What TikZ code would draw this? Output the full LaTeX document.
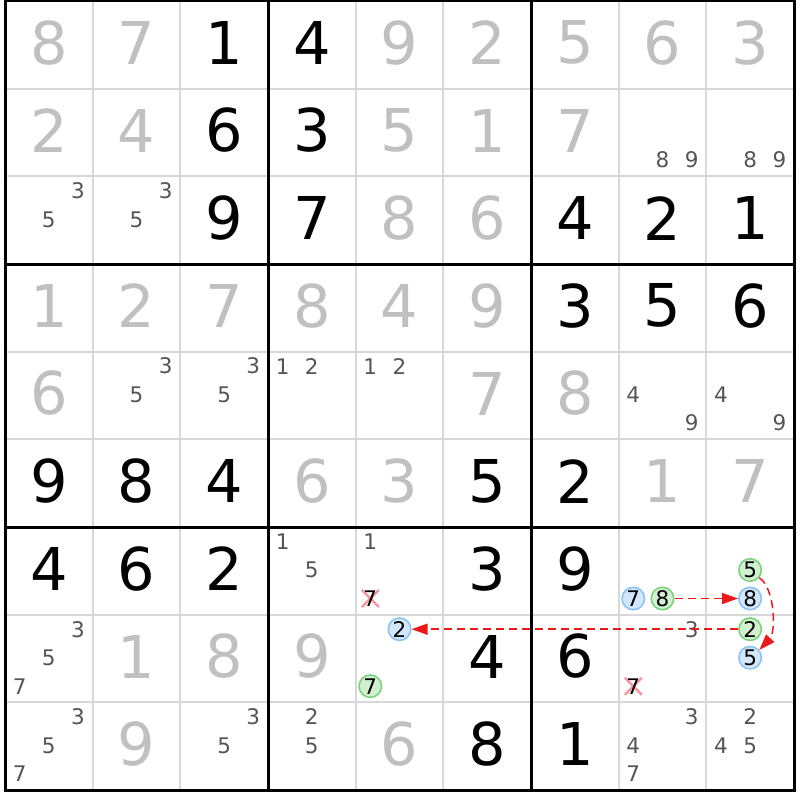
\documentclass[tikz,border=0pt]{standalone}
\usepackage{fontspec}
\setmainfont{DejaVu Sans}
\usetikzlibrary{arrows.meta}
\definecolor{solved}{RGB}{192,192,192}
\definecolor{cand}{RGB}{85,85,85}
\definecolor{thinline}{RGB}{216,216,216}
\definecolor{bfill}{RGB}{210,230,252}
\definecolor{bline}{RGB}{140,195,245}
\definecolor{gfill}{RGB}{208,240,208}
\definecolor{gline}{RGB}{125,210,125}
\definecolor{chain}{RGB}{235,25,25}
\definecolor{xcol}{RGB}{245,150,160}
\begin{document}
\begin{tikzpicture}[x=1pt,y=-1pt,
  given/.style={font=\fontsize{59}{59}\selectfont, text=black, inner sep=0pt},
  solvd/.style={given, text=solved},
  cnd/.style={font=\fontsize{21.5}{21.5}\selectfont, text=cand, inner sep=0pt},
  bc/.style={circle, draw=bline, fill=bfill, line width=1.6pt, minimum size=22.5pt, inner sep=0pt, font=\fontsize{21.5}{21.5}\selectfont, text=black},
  gc/.style={bc, draw=gline, fill=gfill},
  xd/.style={inner sep=0pt, font=\fontsize{21.5}{21.5}\selectfont, text=black},
  xmark/.style={draw=xcol, line width=2.5pt},
  link/.style={draw=chain, line width=1.5pt, dash pattern=on 8pt off 5pt, -{Triangle[length=16pt,width=11pt]}},
  thinl/.style={draw=thinline, line width=2pt},
  thickl/.style={draw=black, line width=3pt}
]
\useasboundingbox (0,0) rectangle (800,800);
\fill[white] (0,0) rectangle (800,800);
% grid
\foreach \i in {1,2,4,5,7,8}{
  \draw[thinl] ({5+87.667*\i},1) -- ({5+87.667*\i},790);
  \draw[thinl] (5,{1+87.667*\i}) -- (794,{1+87.667*\i});
}
\foreach \i in {0,3,6,9}{
  \draw[thickl] ({5+87.667*\i},-0.5) -- ({5+87.667*\i},791.5);
  \draw[thickl] (3.5,{1+87.667*\i}) -- (795.5,{1+87.667*\i});
}
% given (black) digits
\foreach \r/\c/\d in {1/3/1,1/4/4,2/3/6,2/4/3,3/3/9,3/4/7,3/7/4,3/8/2,3/9/1,
  4/7/3,4/8/5,4/9/6,6/1/9,6/2/8,6/3/4,6/6/5,6/7/2,7/1/4,7/2/6,7/3/2,7/6/3,7/7/9,
  8/6/4,8/7/6,9/6/8,9/7/1}{
  \node[given] (n\r\c) at ({5+87.667*(\c-0.5)},{87.667*(\r-0.5)-1}) {\d};
}
% solved (gray) digits
\foreach \r/\c/\d in {1/1/8,1/2/7,1/5/9,1/6/2,1/7/5,1/8/6,1/9/3,
  2/1/2,2/2/4,2/5/5,2/6/1,2/7/7,3/5/8,3/6/6,
  4/1/1,4/2/2,4/3/7,4/4/8,4/5/4,4/6/9,5/1/6,5/6/7,5/7/8,
  6/4/6,6/5/3,6/8/1,6/9/7,8/2/1,8/3/8,8/4/9,9/2/9,9/5/6}{
  \node[solvd] (n\r\c) at ({5+87.667*(\c-0.5)},{87.667*(\r-0.5)-1}) {\d};
}
% candidates: row/col/position
\foreach \r/\c/\p in {2/8/8,2/8/9,2/9/8,2/9/9,3/1/3,3/1/5,3/2/3,3/2/5,
  5/2/3,5/2/5,5/3/3,5/3/5,5/4/1,5/4/2,5/5/1,5/5/2,5/8/4,5/8/9,5/9/4,5/9/9,
  7/4/1,7/4/5,7/5/1,8/1/3,8/1/5,8/1/7,8/8/3,
  9/1/3,9/1/5,9/1/7,9/3/3,9/3/5,9/4/2,9/4/5,9/8/3,9/8/4,9/8/7,9/9/2,9/9/4,9/9/5}{
  \pgfmathtruncatemacro{\kx}{mod(\p-1,3)}
  \pgfmathtruncatemacro{\ky}{int((\p-1)/3)}
  \node[cnd] (c\r\c\p) at ({5+87.667*(\c-1)+14.6+29.2*\kx},{1+87.667*(\r-1)+14.5+28.5*\ky}) {\p};
}
% eliminated candidates
\draw[xmark] (361.8,590) -- (378.8,607) (361.8,607) -- (378.8,590);
\node[xd] (x757) at (370.3,598.5) {7};
\draw[xmark] (624.8,677.7) -- (641.8,694.7) (624.8,694.7) -- (641.8,677.7);
\node[xd] (x887) at (633.3,686.2) {7};
% chain candidates
\node[bc] (b7) at (633.3,598.5) {7};
\node[gc] (g8) at (662.5,598.5) {8};
\node[gc] (g5) at (750.1,570) {5};
\node[bc] (b8) at (750.1,598.5) {8};
\node[gc] (g2) at (750.1,629.2) {2};
\node[bc] (b5) at (750.1,657.7) {5};
\node[bc] (b2) at (399.5,629.2) {2};
\node[gc] (g7) at (370.3,686.2) {7};
% links
\draw[link] (g8) -- (b8);
\draw[link] (g2) -- (b2);
\draw[link] (g5.-40) .. controls (775,588) and (776,632) .. (b5.40);
\end{tikzpicture}
\end{document}
